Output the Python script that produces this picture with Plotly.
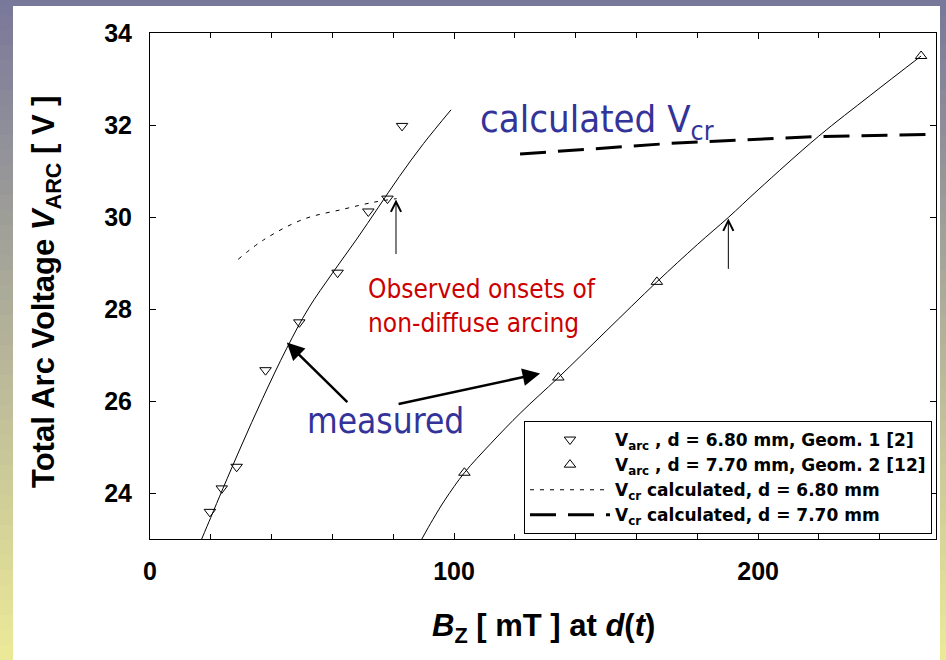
import plotly.graph_objects as go

# Measured total arc voltage, d = 6.80 mm (Geom. 1)
bz_680 = [19.7, 23.6, 28.5, 38.0, 49.1, 61.7, 71.8, 78.1, 82.9]
v_680 = [23.59, 24.10, 24.57, 26.67, 27.71, 28.79, 30.12, 30.40, 31.98]

# Measured total arc voltage, d = 7.70 mm (Geom. 2)
bz_770 = [103.4, 134.3, 166.7, 253.6]
v_770 = [24.44, 26.51, 28.59, 33.50]

# Smooth curves drawn through the measurements
fit680_bz = [17.0, 20.0, 24.0, 30.0, 37.0, 45.0, 52.0, 60.0, 68.0, 75.0, 82.0, 90.0, 99.0]
fit680_v = [23.00, 23.47, 24.10, 25.02, 26.05, 27.15, 28.00, 28.78, 29.52, 30.20, 30.88, 31.60, 32.33]
fit770_bz = [89.4, 93.0, 97.0, 103.4, 112.0, 122.0, 134.3, 150.0, 166.7, 180.0, 190.2, 200.0, 219.8, 237.0, 253.6]
fit770_v = [23.00, 23.42, 23.85, 24.44, 25.07, 25.75, 26.51, 27.52, 28.59, 29.40, 29.99, 30.59, 31.75, 32.65, 33.50]

# Calculated critical voltage V_cr
vcr680_bz = [29.0, 37.3, 50.4, 63.6, 73.5, 81.1]
vcr680_v = [29.08, 29.50, 29.95, 30.17, 30.32, 30.40]
vcr770_bz = [121.7, 143.6, 171.0, 193.0, 219.8, 258.0]
vcr770_v = [31.37, 31.47, 31.60, 31.67, 31.75, 31.80]

# Observed onsets of non-diffuse arcing
onset_bz = [80.9, 190.2]
onset_v = [30.38, 29.97]

# Where the "measured" arrows point
measured_tip_bz = [45.0, 128.3]
measured_tip_v = [27.27, 26.60]

x_range = [0, 258.5]
y_range = [23, 34]
y_ticks = [24, 26, 28, 30, 32, 34]
x_ticks = [0, 100, 200]

W, H = 946, 660
ML, MR, MT, MB = 150, 10, 33, 121
PW, PH = W - ML - MR, H - MT - MB


def px(xp):
    return (xp - ML) / PW


def py(yp):
    return (H - MB - yp) / PH


fig = go.Figure()

fig.add_trace(go.Scatter(x=fit680_bz, y=fit680_v, mode="lines",
                         line=dict(color="black", width=1, shape="spline",
                                   smoothing=1.0),
                         showlegend=False, hoverinfo="skip"))
fig.add_trace(go.Scatter(x=fit770_bz, y=fit770_v, mode="lines",
                         line=dict(color="black", width=1, shape="spline",
                                   smoothing=1.0),
                         showlegend=False, hoverinfo="skip"))

fig.add_trace(go.Scatter(
    x=bz_680, y=v_680, mode="markers",
    name="V<sub>arc</sub> , d = 6.80 mm, Geom. 1 [2]",
    marker=dict(symbol="triangle-down-open", size=10, color="black",
                line=dict(width=1, color="black"))))
fig.add_trace(go.Scatter(
    x=bz_770, y=v_770, mode="markers",
    name="V<sub>arc</sub> , d = 7.70 mm, Geom. 2 [12]",
    marker=dict(symbol="triangle-up-open", size=10, color="black",
                line=dict(width=1, color="black"))))
fig.add_trace(go.Scatter(
    x=vcr680_bz, y=vcr680_v, mode="lines",
    name="V<sub>cr</sub> calculated, d = 6.80 mm",
    line=dict(color="black", width=1, dash="4px,6px", shape="spline")))
fig.add_trace(go.Scatter(
    x=vcr770_bz, y=vcr770_v, mode="lines",
    name="V<sub>cr</sub> calculated, d = 7.70 mm",
    line=dict(color="black", width=3, dash="26px,12px")))

annotations = []

# Thin arrows marking onsets of non-diffuse arcing
for xb, yv, dy in zip(onset_bz, onset_v, [56, 52]):
    annotations.append(dict(x=xb, y=yv, xref="x", yref="y", text="",
                            showarrow=True, ax=0, ay=dy, arrowhead=5,
                            arrowsize=2.0, arrowwidth=1, arrowcolor="black"))

# Thick arrows from the "measured" label
for xb, yv, ax, ay in zip(measured_tip_bz, measured_tip_v, [62, -143], [61, 31]):
    annotations.append(dict(x=xb, y=yv, xref="x", yref="y", text="",
                            showarrow=True, ax=ax, ay=ay, arrowhead=2,
                            arrowsize=1.4, arrowwidth=2.5, arrowcolor="black"))

blue = "#333399"
red = "#cc0000"
label_font = "DejaVu Sans Condensed, DejaVu Sans, sans-serif"
bold_font = "Liberation Sans, Arial, sans-serif"

annotations += [
    dict(x=px(478), y=py(121), xref="paper", yref="paper",
         text="calculated V<sub>cr</sub>", showarrow=False,
         xanchor="left", yanchor="middle",
         font=dict(family=label_font, size=38, color=blue)),
    dict(x=px(385), y=py(421), xref="paper", yref="paper",
         text="measured", showarrow=False, xanchor="center", yanchor="middle",
         font=dict(family=label_font, size=35, color=blue)),
    dict(x=px(366), y=py(306), xref="paper", yref="paper",
         text="Observed onsets of<br>non-diffuse arcing", showarrow=False,
         xanchor="left", yanchor="middle", align="left",
         font=dict(family=label_font, size=26, color=red)),
    # axis titles
    dict(x=px(46), y=py(292), xref="paper", yref="paper",
         text="Total Arc Voltage <i>V</i><sub>ARC</sub> [ V ]",
         showarrow=False, textangle=-90, xanchor="center", yanchor="middle",
         font=dict(family=bold_font, size=31, color="black", weight="bold")),
    dict(x=px(543), y=py(628), xref="paper", yref="paper",
         text="<i>B</i><sub>Z</sub> [ mT ] at <i>d</i>(<i>t</i>)",
         showarrow=False, xanchor="center", yanchor="middle",
         font=dict(family=bold_font, size=31, color="black", weight="bold")),
]

# Frame around the white panel: vertical colour gradient, purple-grey to pale yellow
top_rgb = (120, 120, 154)
bot_rgb = (236, 234, 152)
shapes = []
n_steps = 44
step = H / n_steps
for i in range(n_steps):
    t = (i + 0.5) / n_steps
    c = tuple(int(round(a + (b - a) * t)) for a, b in zip(top_rgb, bot_rgb))
    col = "rgb(%d,%d,%d)" % c
    y0p, y1p = i * step, (i + 1) * step + 0.6
    for xa, xb in [(0, 13), (940, W)]:
        shapes.append(dict(type="rect", xref="paper", yref="paper",
                           x0=px(xa), x1=px(xb), y0=py(y1p), y1=py(y0p),
                           line=dict(width=0), fillcolor=col, layer="above"))
shapes.append(dict(type="rect", xref="paper", yref="paper",
                   x0=px(0), x1=px(W), y0=py(6), y1=py(0),
                   line=dict(width=0), fillcolor="rgb(120,120,154)", layer="above"))

tick_font = dict(family=bold_font, size=25, color="black", weight="bold")

fig.update_layout(
    width=W, height=H,
    margin=dict(l=ML, r=MR, t=MT, b=MB),
    paper_bgcolor="white", plot_bgcolor="white",
    annotations=annotations, shapes=shapes,
    legend=dict(x=px(524), y=py(421), xanchor="left", yanchor="top",
                bgcolor="white", bordercolor="black", borderwidth=1,
                itemwidth=80, tracegroupgap=0,
                font=dict(family="DejaVu Sans, sans-serif", size=17,
                          color="black", weight="bold")),
    xaxis=dict(range=x_range, tickvals=x_ticks, ticks="inside", ticklen=6,
               tickcolor="black", showline=True, linecolor="black", linewidth=1,
               mirror="allticks", showgrid=False, zeroline=False,
               tickfont=tick_font, ticklabelstandoff=10,
               minor=dict(dtick=20, ticks="inside", ticklen=5, tickcolor="black",
                          showgrid=False)),
    yaxis=dict(range=y_range, tickvals=y_ticks, ticks="inside", ticklen=6,
               tickcolor="black", showline=True, linecolor="black", linewidth=1,
               mirror="allticks", showgrid=False, zeroline=False,
               tickfont=tick_font, ticklabelstandoff=12),
)

fig.write_html("out.html")
